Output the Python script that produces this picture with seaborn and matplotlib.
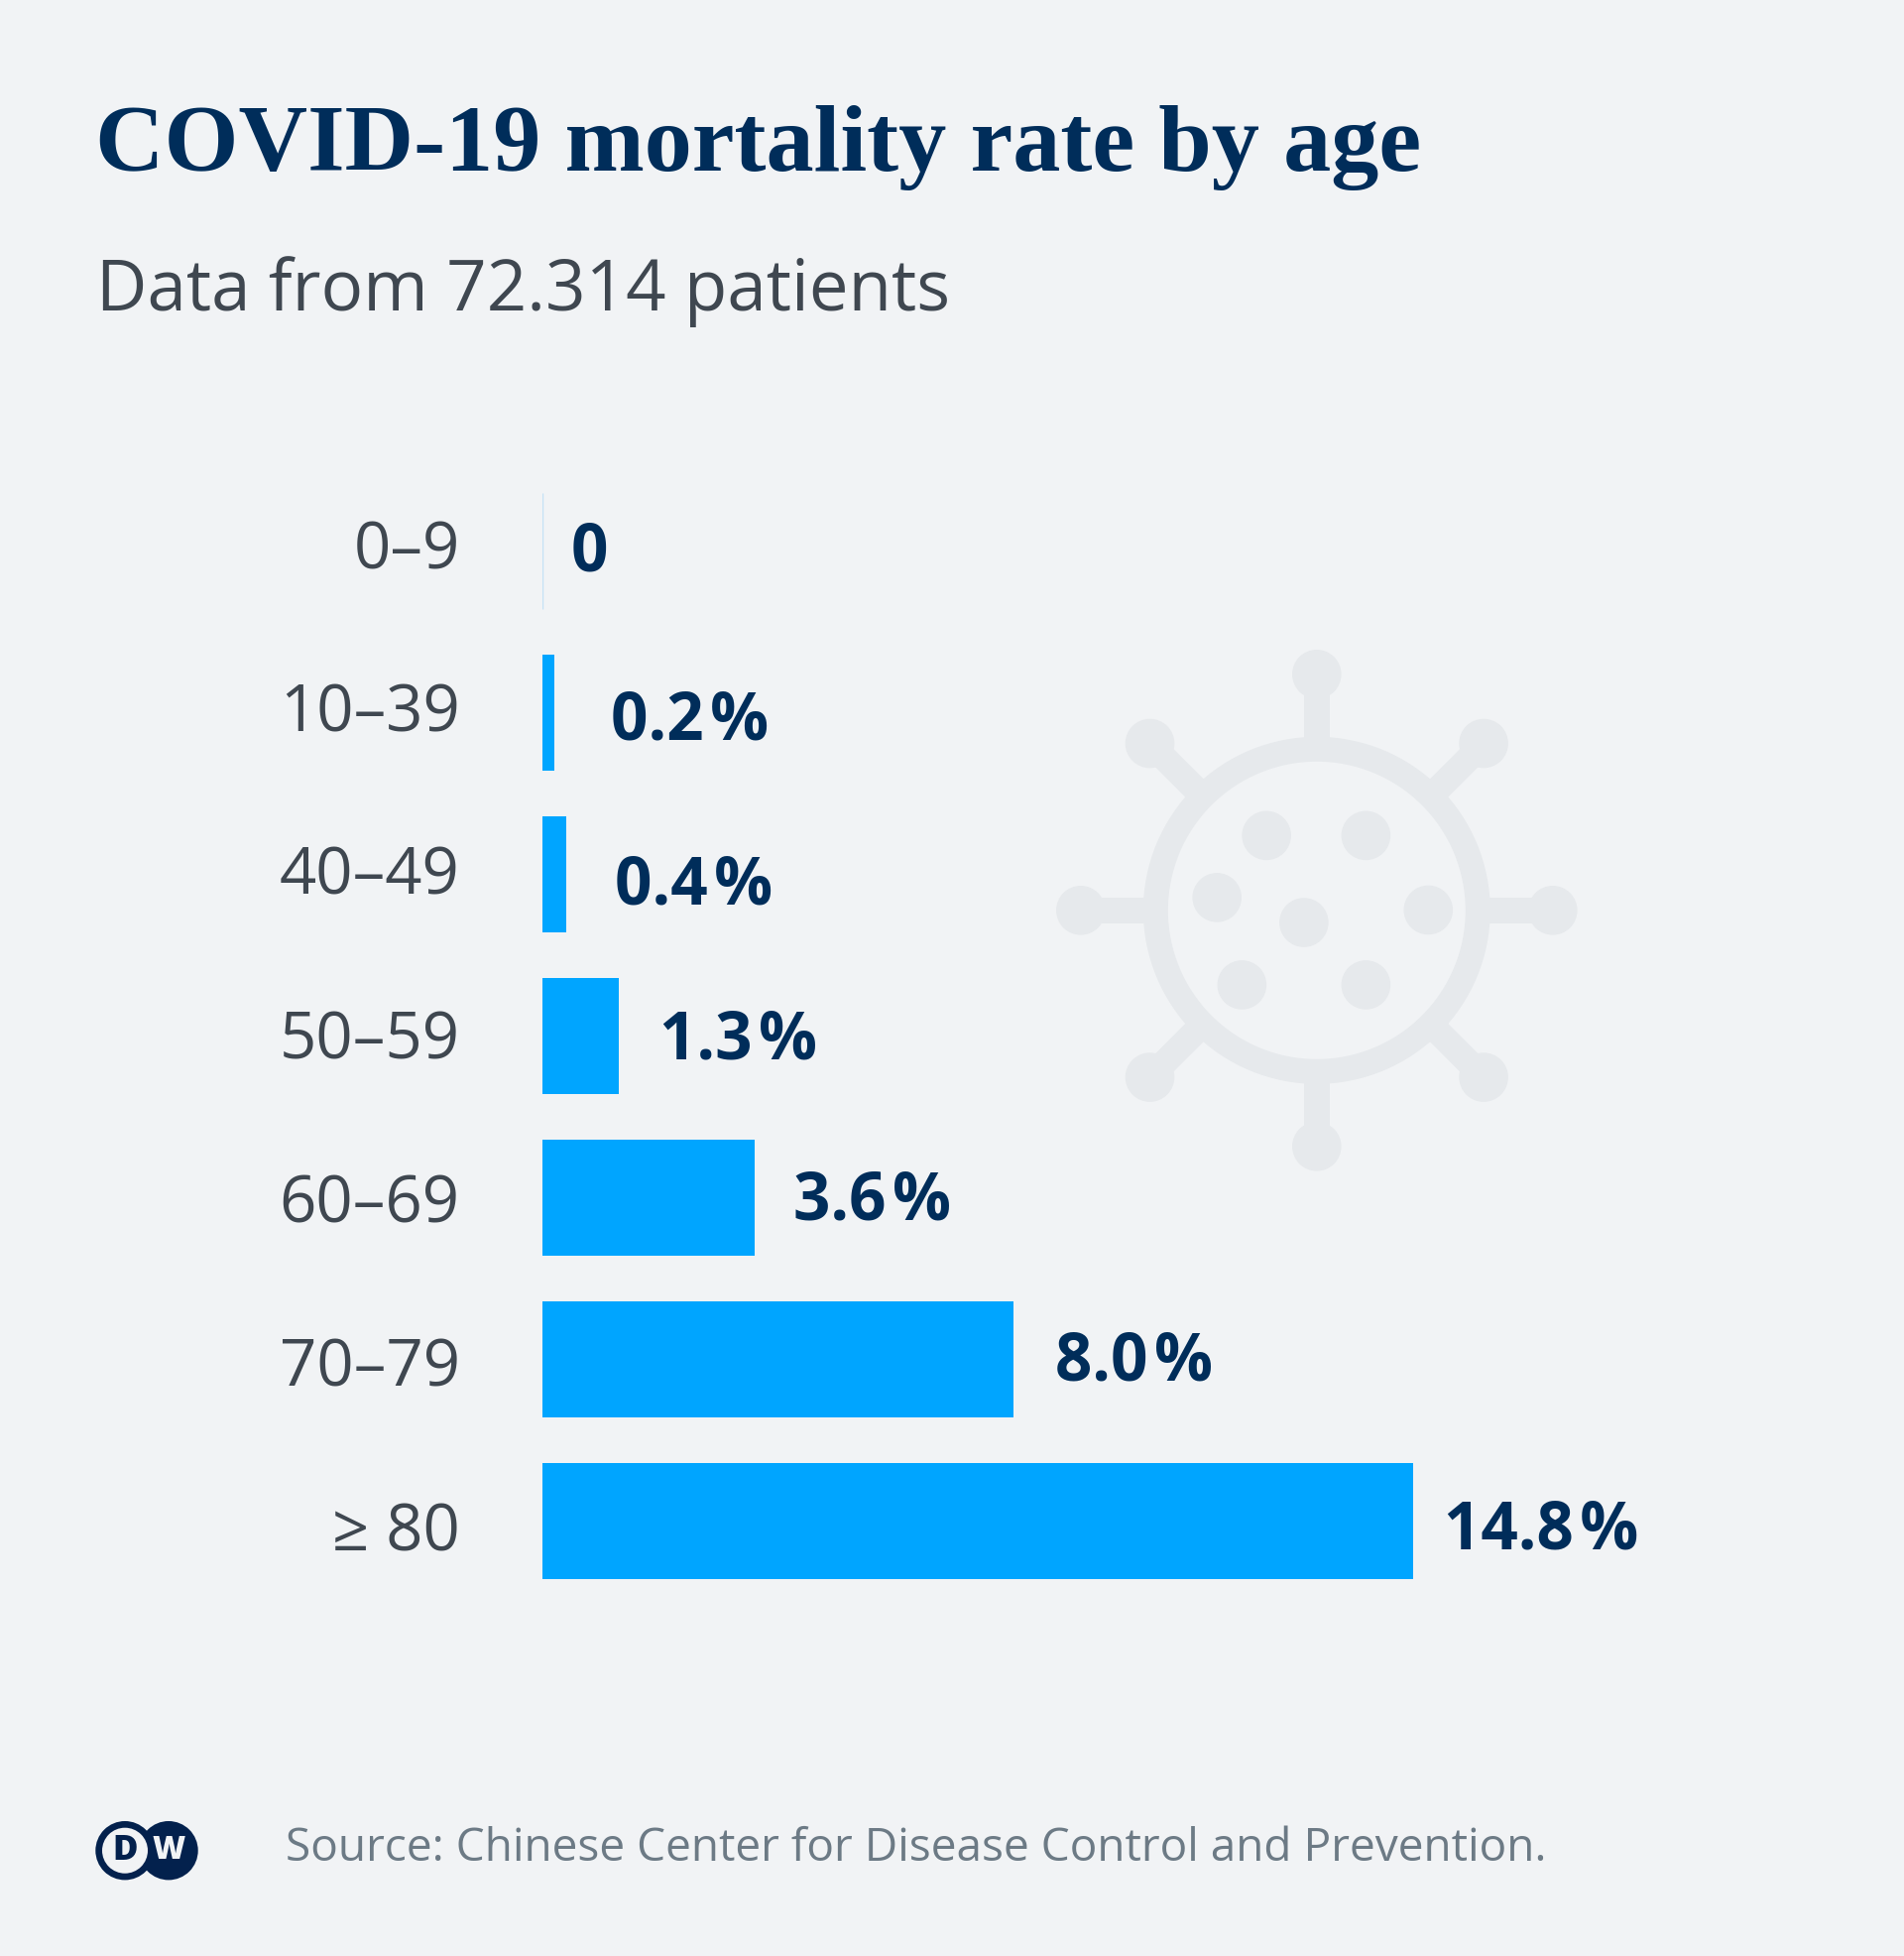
import matplotlib
matplotlib.use("Agg")
import numpy as np
import pandas as pd
import matplotlib.pyplot as plt
import seaborn as sns
from matplotlib.patches import Circle
from matplotlib.transforms import ScaledTranslation

age_groups = ["0–9", "10–39", "40–49", "50–59", "60–69", "70–79", "≥ 80"]
mortality = [0, 0.2, 0.4, 1.3, 3.6, 8.0, 14.8]
value_labels = ["0", "0.2\u200a%", "0.4\u200a%", "1.3\u200a%", "3.6\u200a%", "8.0\u200a%", "14.8\u200a%"]

BG = "#f1f3f5"
BAR = "#00a5ff"
NAVY = "#002d5a"
LOGO = "#03214d"
DARK = "#3f4750"
GREY = "#6c7a85"
ICON = "#e6e9ec"

W, H, DPI = 1920, 1972, 100
PX_PER_UNIT = 59.32
X0 = 547
ROW0, ROW_STEP = 555.5, 163
AX_TOP, AX_BOTTOM = 480, 1610

sns.set_theme(style="white")
plt.rcParams["font.family"] = ["Open Sans", "DejaVu Sans"]
plt.rcParams["savefig.facecolor"] = BG

fig = plt.figure(figsize=(W / DPI, H / DPI), dpi=DPI, facecolor=BG)

# overlay in pixel coordinates for title, source, icon and logo
bg = fig.add_axes([0, 0, 1, 1], zorder=0)
bg.set_xlim(0, W)
bg.set_ylim(H, 0)
bg.axis("off")

ax = fig.add_axes([X0 / W, 1 - AX_BOTTOM / H, (W - X0) / W, (AX_BOTTOM - AX_TOP) / H], zorder=1)
ax.patch.set_alpha(0)

df = pd.DataFrame({"age": age_groups, "rate": mortality})
sns.barplot(data=df, x="rate", y="age", color=BAR, saturation=1, width=0.722, linewidth=0, ax=ax)

ax.set_xlim(0, (W - X0) / PX_PER_UNIT)
ax.set_ylim(6 + (AX_BOTTOM - (ROW0 + 6 * ROW_STEP)) / ROW_STEP, -(ROW0 - AX_TOP) / ROW_STEP)
ax.set_xlabel("")
ax.set_ylabel("")
ax.set_xticks([])
ax.tick_params(axis="y", length=0, pad=60, labelsize=47, labelcolor=DARK)
sns.despine(ax=ax, left=True, bottom=True)

# age labels sit on a slightly wider pitch than the bars
tick_dy = [-7, -6, -5, -2.5, 0, 2.5, 5]
for lab, dy in zip(ax.get_yticklabels(), tick_dy):
    lab.set_transform(lab.get_transform() + ScaledTranslation(0, -dy / DPI, fig.dpi_scale_trans))

# the zero bar is only a hairline
ax.patches[0].set_edgecolor("#c4e2f5")
ax.patches[0].set_linewidth(1)

# offsets from bar end in pixels, the labels are not evenly placed in the original
label_dx = [29, 57, 49, 41, 39, 42, 31]
label_dy = [-5, 1, 5, -3, -3, -4, 3]
for i, (val, txt) in enumerate(zip(mortality, value_labels)):
    ax.annotate(txt, (val, i), xytext=(label_dx[i] * 72 / DPI, -label_dy[i] * 72 / DPI),
                textcoords="offset points", ha="left", va="center_baseline",
                fontsize=47.2, fontweight="bold", color=NAVY)

bg.text(96, 172, "COVID-19 mortality rate by age", family="Liberation Serif",
        fontweight="bold", fontsize=69.3, color=NAVY, ha="left", va="baseline", zorder=3)
bg.text(97, 313, "Data from 72.314 patients", fontsize=51, color=DARK, ha="left", va="baseline")
bg.text(288, 1876, "Source: Chinese Center for Disease Control and Prevention.", fontsize=33.15,
        color=GREY, ha="left", va="baseline")

# virus icon
cx, cy = 1327.8, 917.8
for ang in np.arange(0, 360, 45):
    dx, dy = np.cos(np.radians(ang)), np.sin(np.radians(ang))
    bg.plot([cx + 165 * dx, cx + 238 * dx], [cy + 165 * dy, cy + 238 * dy], color=ICON,
            lw=25.9 * 72 / DPI, solid_capstyle="butt")
    bg.add_patch(Circle((cx + 238 * dx, cy + 238 * dy), 24.8, fc=ICON, ec="none"))
bg.add_patch(Circle((cx, cy), 162.5, fc="none", ec=ICON, lw=25 * 72 / DPI))
for ox, oy in [(641, 574), (912, 574), (506, 743), (1082, 777), (743, 811), (574, 981), (912, 981)]:
    bg.add_patch(Circle((1040 + ox / 2.703, 630 + oy / 2.703), 24.8, fc=ICON, ec="none"))

# DW logo
bg.add_patch(Circle((170, 1865.7), 29.7, fc=LOGO, ec="none"))
bg.add_patch(Circle((126, 1865.7), 29.7, fc=LOGO, ec="none"))
bg.add_patch(Circle((126, 1865.7), 23, fc=BG, ec="none"))
bg.text(126, 1866, "D", fontsize=25, fontweight=800, color=LOGO, ha="center", va="center")
bg.text(170, 1866, "W", fontsize=23, fontweight=800, color=BG, ha="center", va="center")

fig.savefig("out.png", dpi=DPI, facecolor=BG)
